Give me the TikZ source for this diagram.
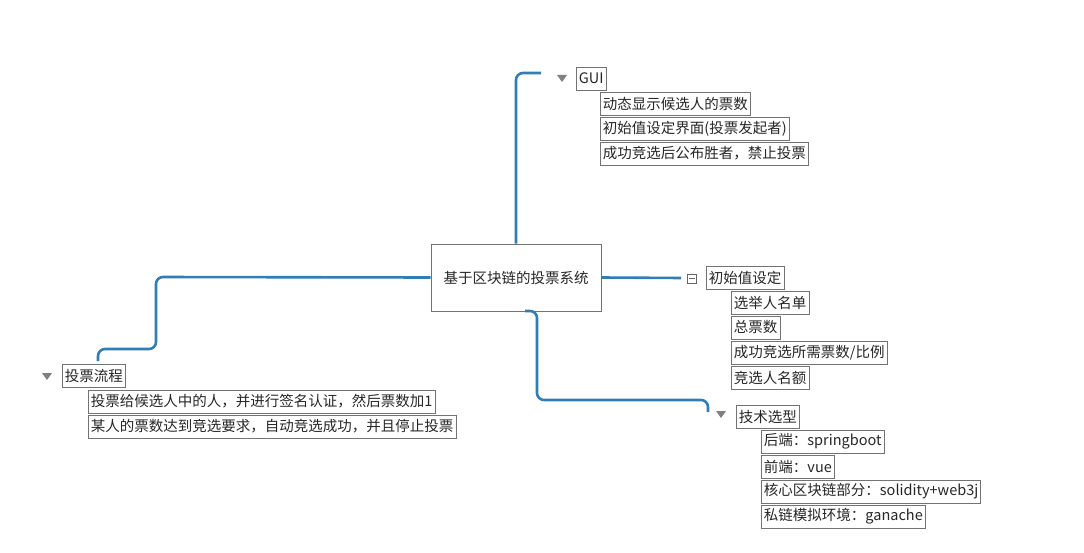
\documentclass[tikz,border=0pt]{standalone}
\usepackage{fontspec}
\setmainfont{Noto Sans CJK SC}
\begin{document}
\begin{tikzpicture}[x=1pt,y=-1pt,
  box/.style={draw=black!55,line width=0.9pt,anchor=west,inner xsep=2.5pt,inner ysep=0pt,minimum height=23pt,font=\fontsize{14.5}{16}\selectfont,text=black!85},
  link/.style={draw=cyan!70!blue!80!black,line width=2.6pt,rounded corners=7pt},
  tri/.style={fill=black!50,draw=none}]
\useasboundingbox (0,0) rectangle (1084,553);
% center
\node[draw=black!55,line width=0.9pt,minimum width=170pt,minimum height=67pt,font=\fontsize{14.5}{16}\selectfont,text=black!85] (c) at (516,277.5) {基于区块链的投票系统};
% GUI
\node[box] (gui) at (576,78.5) {GUI};
\node[box] (g1) at (600,103.5) {动态显示候选人的票数};
\node[box] (g2) at (600,128.5) {初始值设定界面(投票发起者)};
\node[box] (g3) at (600,153.5) {成功竞选后公布胜者，禁止投票};
\fill[tri] (557,75) -- (567,75) -- (562,82) -- cycle;
% init
\node[box] (init) at (706,277.5) {初始值设定};
\node[box] (i1) at (731,302.5) {选举人名单};
\node[box] (i2) at (731,327.5) {总票数};
\node[box] (i3) at (731,352.5) {成功竞选所需票数/比例};
\node[box] (i4) at (731,377.5) {竞选人名额};
\node[draw=black!60,line width=0.8pt,minimum size=9pt,inner sep=0pt] (minus) at (692,279) {};
\draw[black!60,line width=1pt] (689,279) -- (695,279);
% tech
\node[box] (tech) at (736,416.5) {技术选型};
\node[box] (t1) at (761,441.5) {后端：springboot};
\node[box] (t2) at (761,466.5) {前端：vue};
\node[box] (t3) at (761,491.5) {核心区块链部分：solidity+web3j};
\node[box] (t4) at (761,516.5) {私链模拟环境：ganache};
\fill[tri] (716,411) -- (726,411) -- (721,418) -- cycle;
% vote
\node[box] (vote) at (62,376) {投票流程};
\node[box] (v1) at (88,401.5) {投票给候选人中的人，并进行签名认证，然后票数加1};
\node[box] (v2) at (88,426.5) {某人的票数达到竞选要求，自动竞选成功，并且停止投票};
\fill[tri] (42,373) -- (52,373) -- (47,380) -- cycle;
% connectors
\coordinate (gend) at (541,73);
\coordinate (iend) at (681,278);
\coordinate (tend) at (708,412);
\coordinate (vend) at (98,361);
\draw[link] (c.north -| 516,0) -- (516,73) -- (gend);
\draw[link] (c.east) -- (iend);
\draw[link] (525,311) -- (537,311) -- (537,400) -- (708,400) -- (tend);
\draw[link] (c.west) -- (156,277) -- (156,349) -- (98,349) -- (vend);
\end{tikzpicture}
\end{document}
